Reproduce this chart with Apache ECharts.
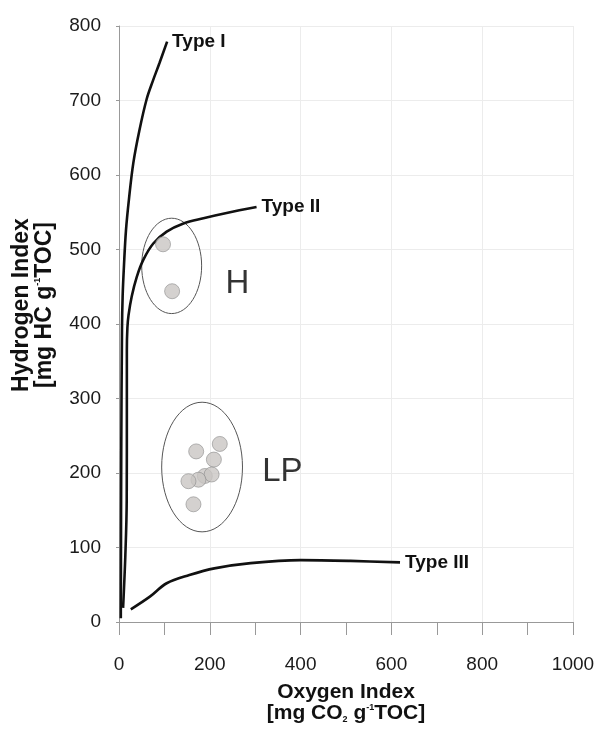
<!DOCTYPE html>
<html>
<head>
<meta charset="utf-8">
<script src="https://cdn.jsdelivr.net/npm/echarts@6/dist/echarts.min.js"></script>
<style>
html,body{margin:0;padding:0;background:#fff;}
#chart{width:598px;height:729px;}
</style>
</head>
<body>
<div id="chart"></div>
<script>
// Evolution curves [Oxygen Index, Hydrogen Index]
const typeI = [[4,5],[5,231],[6.6,392],[8,437],[11,479],[15.4,526],[22,568],[31.5,616],[45,660],[61,702],[75,727],[89,750],[106,779]];
const typeII = [[9,19],[14,90],[17,164],[17.3,290],[17.3,365],[18.5,395],[21,412],[28,437],[39,463],[53.5,486],[75.5,508],[105,524],[142,535],[186,542],[237,549],[303,557]];
const typeIII = [[26,17],[68,34],[105,52],[155,63],[210,72],[290,79],[400,83],[510,82],[619,80]];
// Samples
const groupH = [[97,507],[117,444]];
const groupLP = [[170,229],[222,239],[209,218],[189,196],[204,198],[175,191],[153,189],[164,158]];
// Ellipses: [centerOI, centerHI, radiusOI, radiusHI]
const ellipses = [[116,478,66,64],[183,208,89,87]];
// Group labels: [OI, HI, text]
const groupLabels = [[261,454,'H'],[360,201,'LP']];
const curveNames = ['Type I','Type II','Type III'];
const xTicks = [0,200,400,600,800,1000];
const yTicks = [0,100,200,300,400,500,600,700,800];

const FONT = "'Liberation Sans', Arial, sans-serif";
const chart = echarts.init(document.getElementById('chart'));

function curve(name, data){
  return {
    type:'line', name:name, data:data, smooth:0.35, symbol:'none',
    lineStyle:{color:'#111', width:2.6},
    endLabel:{show:true, formatter:name, fontFamily:FONT, fontWeight:'bold', fontSize:19, color:'#111', distance:5},
    z:3
  };
}

function richSet(fs, lh){
  return {
    t:{fontFamily:FONT, fontWeight:'bold', fontSize:fs, color:'#111', lineHeight:lh},
    sup:{fontFamily:FONT, fontWeight:'bold', fontSize:9, color:'#111', verticalAlign:'top', lineHeight:lh, padding:[0,0,9,0]},
    sub:{fontFamily:FONT, fontWeight:'bold', fontSize:9, color:'#111', verticalAlign:'bottom', lineHeight:lh, padding:[9,0,0,0]}
  };
}

chart.setOption({
  animation:false,
  grid:{left:119, right:25, top:26, bottom:107},
  xAxis:{
    type:'value', min:xTicks[0], max:xTicks[xTicks.length-1], interval:200,
    axisLine:{show:true, lineStyle:{color:'#999', width:1}},
    axisTick:{show:true, length:13, lineStyle:{color:'#999'}},
    minorTick:{show:true, splitNumber:2, length:13, lineStyle:{color:'#999'}},
    splitLine:{show:true, lineStyle:{color:'#ececec', width:1}},
    axisLabel:{margin:33, fontFamily:FONT, fontSize:19, color:'#1a1a1a', formatter:function(v){return String(v);}},
    name:'{t|Oxygen Index}\n{t|[mg CO}{sub|2}{t| g}{sup|-1}{t|TOC]}',
    nameLocation:'middle', nameGap:60,
    nameTextStyle:{rich:richSet(21,21)}
  },
  yAxis:{
    type:'value', min:yTicks[0], max:yTicks[yTicks.length-1], interval:100,
    axisLine:{show:true, lineStyle:{color:'#999', width:1}},
    axisTick:{show:true, length:3, lineStyle:{color:'#999'}},
    splitLine:{show:true, lineStyle:{color:'#ececec', width:1}},
    axisLabel:{margin:18, fontFamily:FONT, fontSize:19, color:'#1a1a1a'},
    name:'{t|Hydrogen Index}\n{t|[mg HC g}{sup|-1}{t|TOC]}',
    nameLocation:'middle', nameGap:63,
    nameTextStyle:{rich:richSet(23,23), padding:[0,0,0,38]}
  },
  series:[
    curve(curveNames[0], typeI),
    curve(curveNames[1], typeII),
    curve(curveNames[2], typeIII),
    {
      type:'custom', data:ellipses, z:2,
      renderItem:function(params, api){
        const c = api.coord([api.value(0), api.value(1)]);
        const s = api.size([api.value(2), api.value(3)]);
        return {type:'ellipse', shape:{cx:c[0], cy:c[1], rx:s[0], ry:s[1]},
          style:{fill:'none', stroke:'#555', lineWidth:1}};
      }
    },
    {
      type:'scatter', data:groupH.concat(groupLP), symbolSize:15, z:4,
      itemStyle:{color:'#c9c6c3', borderColor:'#8d8d8d', borderWidth:0.8}
    },
    {
      type:'scatter', data:groupLabels, symbolSize:0, z:5,
      label:{show:true, position:'inside', formatter:function(p){return p.data[2];},
        fontFamily:FONT, fontSize:33, color:'#000', textBorderWidth:0}
    }
  ]
});
</script>
</body>
</html>
